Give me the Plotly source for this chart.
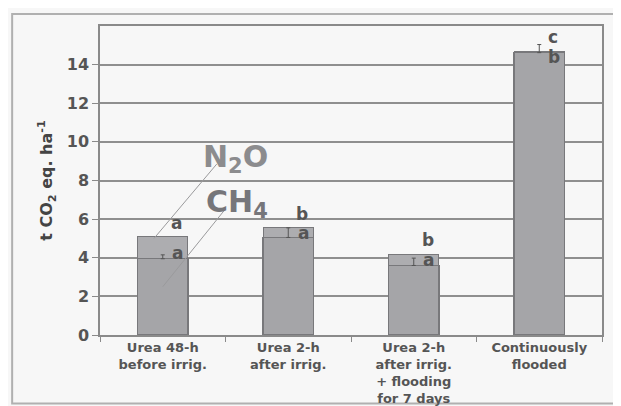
import plotly.graph_objects as go

categories = ["Urea 48-h<br>before irrig.", "Urea 2-h<br>after irrig.",
              "Urea 2-h<br>after irrig.<br>+ flooding<br>for 7 days", "Continuously<br>flooded"]
ch4 = [3.95, 5.05, 3.6, 14.62]
n2o = [1.15, 0.5, 0.57, 0.08]
ch4_err = [0.2, 0.5, 0.38, 0.42]
ch4_letters = ["a", "a", "a", "b"]
n2o_letters = ["a", "b", "b", "c"]
y_ticks = [0, 2, 4, 6, 8, 10, 12, 14]

FONT = "DejaVu Sans"
BAR = "#a5a5a8"
EDGE = "#78787b"

fig = go.Figure()
fig.add_trace(go.Bar(x=categories, y=ch4, name="CH4", width=0.4,
                     marker=dict(color=BAR, line=dict(color=EDGE, width=1.5))))
fig.add_trace(go.Bar(x=categories, y=n2o, name="N2O", width=0.4,
                     marker=dict(color="#adadb0", line=dict(color=EDGE, width=1.2))))
fig.add_trace(go.Scatter(x=categories, y=ch4, mode="markers",
                         marker=dict(opacity=0, size=1),
                         error_y=dict(type="data", array=ch4_err, arrayminus=[0] * len(ch4),
                                      color="#555", thickness=1, width=2),
                         showlegend=False, hoverinfo="skip"))

annotations = []
ch4_shift = [6, 4, 5, -4]
for i, c in enumerate(categories):
    total = ch4[i] + n2o[i]
    annotations.append(dict(x=c, y=total, text="<b>" + n2o_letters[i] + "</b>", showarrow=False,
                            xshift=14, yshift=2, yanchor="bottom",
                            font=dict(family=FONT, size=17, color="#555")))
    annotations.append(dict(x=c, y=ch4[i], text="<b>" + ch4_letters[i] + "</b>", showarrow=False,
                            xshift=15, yshift=ch4_shift[i], yanchor="middle",
                            font=dict(family=FONT, size=17, color="#555")))

annotations.append(dict(x=0.58, y=9.15, xref="x", yref="y", text="<b>N<sub>2</sub>O</b>",
                        showarrow=False, font=dict(family=FONT, size=30, color="#8c8c8e")))
annotations.append(dict(x=0.59, y=6.8, xref="x", yref="y", text="<b>CH<sub>4</sub></b>",
                        showarrow=False, font=dict(family=FONT, size=30, color="#76767a")))

shapes = [
    dict(type="line", xref="x", yref="y", x0=0.43, y0=8.85, x1=-0.07, y1=5.0,
         line=dict(color="#9a9a9c", width=1)),
    dict(type="line", xref="x", yref="y", x0=0.49, y0=6.45, x1=0.0, y1=2.5,
         line=dict(color="#9a9a9c", width=1)),
    dict(type="rect", xref="paper", yref="paper", x0=-0.175, x1=1.06, y0=-0.222, y1=1.039,
         line=dict(color="#b0b0b0", width=2), layer="below"),
]

fig.update_layout(
    width=613, height=398,
    margin=dict(l=92, r=19, t=18, b=71, autoexpand=False),
    paper_bgcolor="#f7f7f7", plot_bgcolor="#f7f7f7",
    barmode="stack", bargap=0.6, showlegend=False,
    font=dict(family=FONT, color="#555"),
    annotations=annotations, shapes=shapes,
)
fig.update_xaxes(
    automargin=False,
    showline=True, linecolor="#8a8a8a", linewidth=1.5, mirror=True,
    ticks="outside", tickson="boundaries", ticklen=5, tickcolor="#8a8a8a",
    tickfont=dict(family=FONT, size=13, color="#555", weight="bold"),
    showgrid=False,
)
fig.update_yaxes(
    automargin=False,
    range=[0, 16], tickvals=y_ticks, ticktext=[str(v) for v in y_ticks],
    showline=True, linecolor="#8a8a8a", linewidth=1.5, mirror=True,
    ticks="outside", ticklen=6, tickcolor="#8a8a8a",
    tickfont=dict(family=FONT, size=16, color="#555", weight="bold"),
    showgrid=True, gridcolor="#8f8f8f", gridwidth=1.5,
    title=dict(text="<b>t CO<sub>2</sub> eq. ha<sup>-1</sup></b>",
               font=dict(family=FONT, size=16, color="#444"), standoff=10),
    zeroline=False,
)

fig.write_html("out.html")
